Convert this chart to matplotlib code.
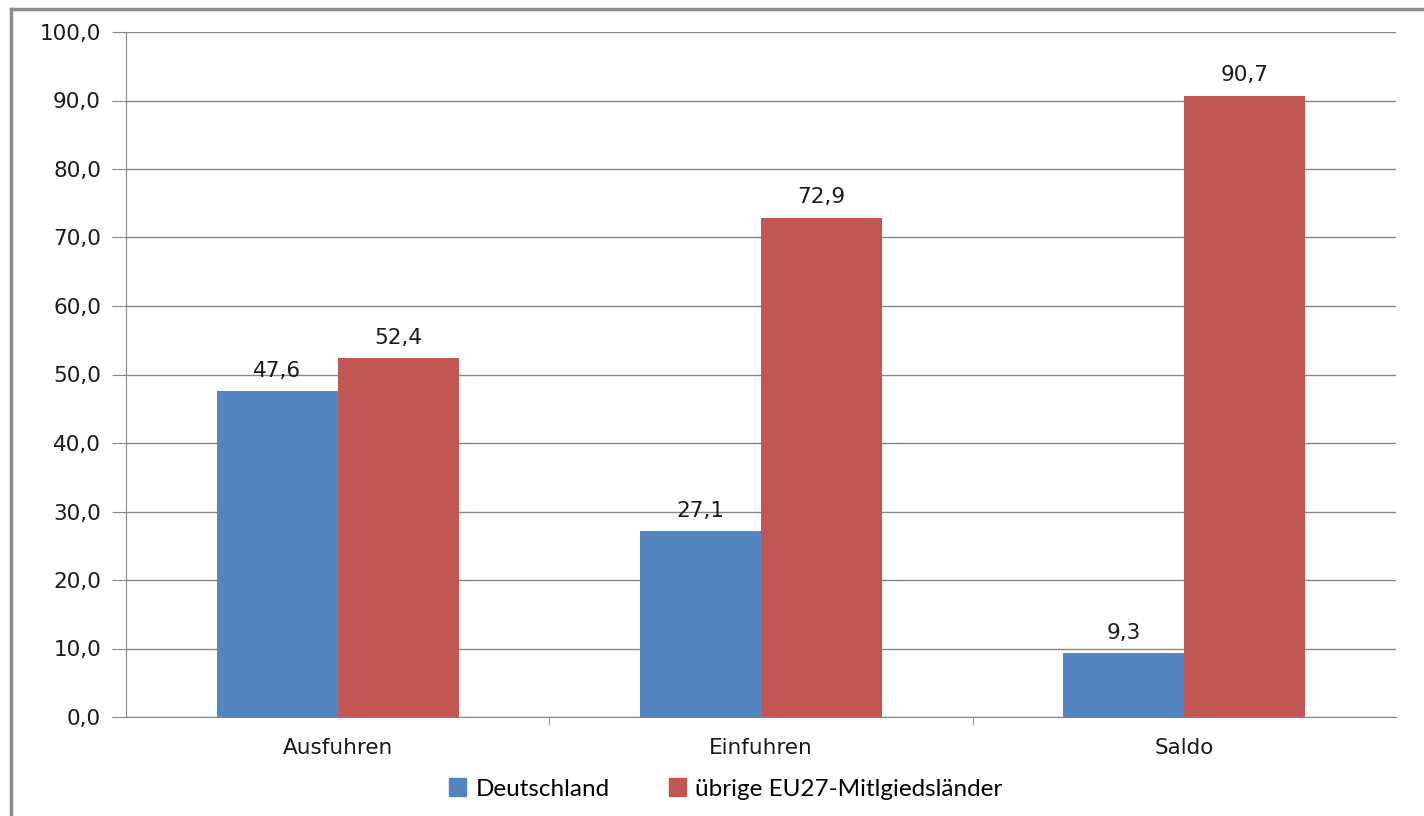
import numpy as np
import matplotlib.pyplot as plt
from matplotlib.lines import Line2D
from matplotlib.patches import Patch

categories = ['Ausfuhren', 'Einfuhren', 'Saldo']
deutschland = [47.6, 27.1, 9.3]
uebrige_eu = [52.4, 72.9, 90.7]
series_names = ['Deutschland', 'übrige EU27-Mitlgiedsländer']

blue = '#5386c0'
red = '#c15653'
grid_col = '#868686'
txt_col = '#1a1a1a'

plt.rcParams['font.family'] = ['DejaVu Sans']

fig = plt.figure(figsize=(14.24, 8.16), dpi=100)
ax = fig.add_axes([126 / 1424, 1 - 717 / 816, (1396 - 126) / 1424, (717 - 32) / 816])

x = np.arange(len(categories))
w = 121 / 423
ax.bar(x - w / 2, deutschland, w, color=blue, zorder=3)
ax.bar(x + w / 2, uebrige_eu, w, color=red, zorder=3)

# value labels with comma decimal
for xi, v in zip(x - w / 2, deutschland):
    ax.text(xi, v + 1.5, f'{v:.1f}'.replace('.', ','), ha='center', va='bottom',
            fontsize=15.5, color=txt_col)
for xi, v in zip(x + w / 2, uebrige_eu):
    ax.text(xi, v + 1.5, f'{v:.1f}'.replace('.', ','), ha='center', va='bottom',
            fontsize=15.5, color=txt_col)

ax.set_xlim(-0.5, 2.5)
ax.set_ylim(0, 100)
ax.set_yticks(np.arange(0, 101, 10))
ax.set_yticklabels([f'{t:.1f}'.replace('.', ',') for t in np.arange(0, 101, 10)])
ax.yaxis.grid(True, color=grid_col, linewidth=1)
ax.set_axisbelow(True)

ax.set_xticks(x)
ax.set_xticklabels(categories)
ax.tick_params(axis='x', length=0, pad=15, labelsize=15.5, labelcolor=txt_col)
ax.tick_params(axis='y', length=10, color=grid_col, labelsize=15.5, labelcolor=txt_col, pad=8)
# small separator ticks between groups
ax.set_xticks([0.5, 1.5], minor=True)
ax.tick_params(axis='x', which='minor', length=6, color=grid_col)

for s in ['top', 'right']:
    ax.spines[s].set_visible(False)
for s in ['left', 'bottom']:
    ax.spines[s].set_color(grid_col)

handles = [Patch(color=blue), Patch(color=red)]
fig.legend(handles, series_names, loc='center', bbox_to_anchor=(726 / 1424, 1 - 789 / 816),
           ncol=2, frameon=False, prop={'family': 'Lato', 'size': 17.5},
           handlelength=0.7, handleheight=0.7, handletextpad=0.4, columnspacing=2.4)

# outer chart frame (left and top edge visible)
fig.add_artist(Line2D([11 / 1424, 11 / 1424], [0, 1 - 9 / 816], transform=fig.transFigure,
                      color='#8c8c8c', linewidth=2.5))
fig.add_artist(Line2D([11 / 1424, 1], [1 - 9 / 816, 1 - 9 / 816], transform=fig.transFigure,
                      color='#8c8c8c', linewidth=2.5))

fig.savefig('out.png', dpi=100)
